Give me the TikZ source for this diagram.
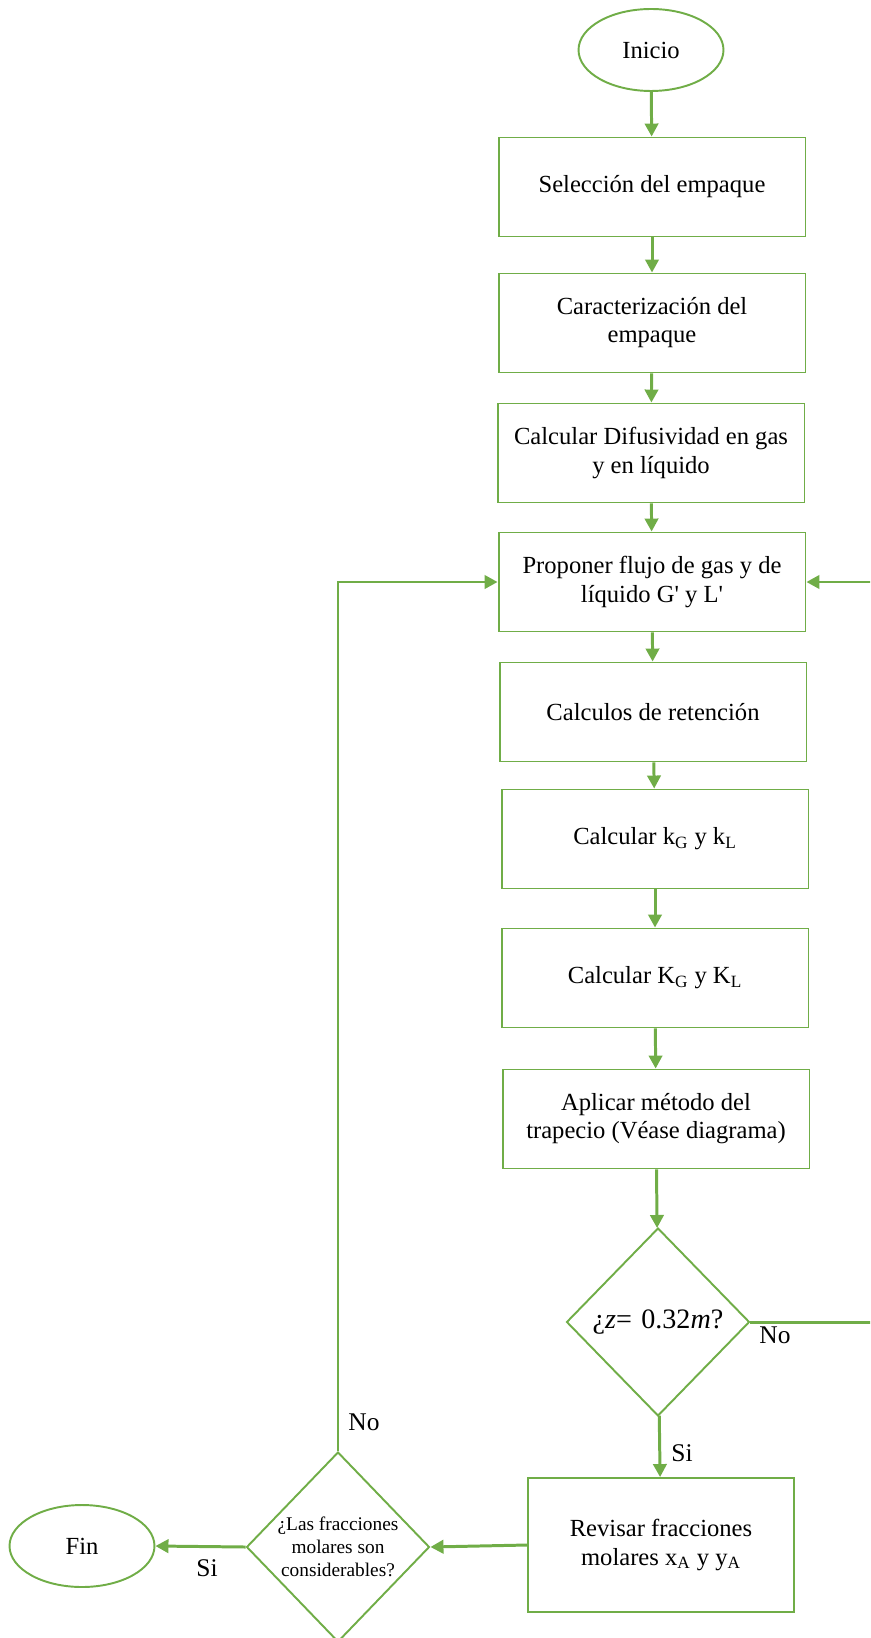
\documentclass[tikz,border=0pt]{standalone}
\usepackage{fontspec}
\setmainfont{Liberation Serif}
\usetikzlibrary{shapes.geometric,arrows.meta}
\definecolor{verde}{HTML}{70AD47}

\begin{document}
\begin{tikzpicture}[x=0.02cm, y=-0.02cm,
        paso/.style={draw=verde, line width=1.1pt, rectangle, align=center,
            minimum width=6.14cm, minimum height=1.98cm, inner sep=2pt,
            font=\fontsize{14}{16}\selectfont},
        term/.style={draw=verde, line width=1.1pt, ellipse,
            minimum width=2.9cm, minimum height=1.64cm, inner sep=0pt,
            font=\fontsize{14}{16}\selectfont},
        pregunta/.style={draw=verde, line width=1.1pt, diamond, align=center,
            minimum width=3.66cm, minimum height=3.76cm, inner sep=0pt},
        flecha/.style={draw=verde, line width=1.7pt,
            -{Triangle[length=7.4pt,width=7.6pt]}},
        etiq/.style={font=\fontsize{14.5}{16}\selectfont, inner sep=0pt}]
    \useasboundingbox (0,0) rectangle (870,1638);
    \clip (0,0) rectangle (870,1638);

    % columna principal
    \node[term] (inicio) at (651,50) {Inicio};
    \node[paso] (sel) at (652,187) {Selección del empaque};
    \node[paso] (car) at (652,323) {Caracterización del\\empaque};
    \node[paso] (dif) at (651,453) {Calcular Difusividad en gas\\y en líquido};
    \node[paso] (prop) at (652,582) {Proponer flujo de gas y de\\líquido G\textquotesingle{} y L\textquotesingle};
    \node[paso] (ret) at (653,712) {Calculos de retención};
    \node[paso] (kmin) at (655,839) {Calcular k\textsubscript{G} y k\textsubscript{L}};
    \node[paso] (kmay) at (655,978) {Calcular K\textsubscript{G} y K\textsubscript{L}};
    \node[paso] (trap) at (656,1119) {Aplicar método del\\trapecio (Véase diagrama)};
    \node[pregunta, font=\fontsize{16}{18}\selectfont] (dz) at (658,1322)
        {¿\textit{z}=\,\,0.32\textit{m}?};
    \node[paso, minimum width=5.32cm, minimum height=2.68cm] (rev) at (661,1545)
        {Revisar fracciones\\molares x\textsubscript{A} y y\textsubscript{A}};

    % fila inferior
    \node[pregunta, minimum height=3.8cm, font=\fontsize{11}{13}\selectfont] (dfr) at (338,1547)
        {¿Las fracciones\\molares son\\considerables?};
    \node[term] (fin) at (82,1546) {Fin};

    \foreach \a/\b in {inicio/sel, sel/car, car/dif, dif/prop, prop/ret,
        ret/kmin, kmin/kmay, kmay/trap, trap/dz, dz/rev}
        {
            \draw[flecha] (\a) -- (\b);
        }

    \draw[flecha] (rev.west) -- (dfr.east);
    \draw[flecha] (dfr.west) -- (fin.east);
    \draw[flecha] (dfr.north) |- (prop.west);
    \coordinate (der) at (874,1322);
    \draw[flecha] (dz.east) -- (der) |- (prop.east);

    % etiquetas
    \node[etiq] (nodz) at (775,1335) {No};
    \node[etiq] (sidz) at (682,1453) {Si};
    \node[etiq] (nofr) at (364,1422) {No};
    \node[etiq] (sifr) at (207,1568) {Si};
\end{tikzpicture}
\end{document}
